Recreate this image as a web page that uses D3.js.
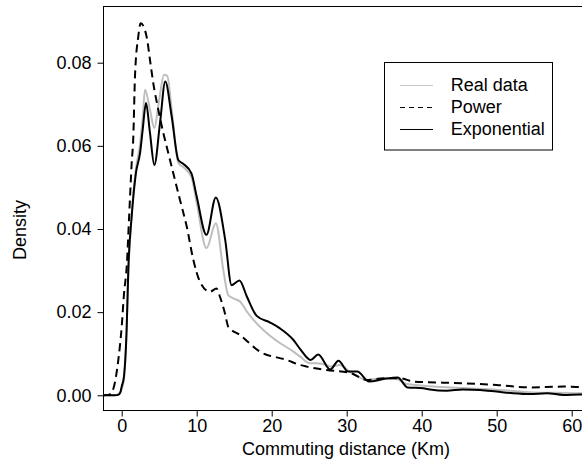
<html>
<head>
<title>Commuting distance density</title>
<meta charset="utf-8">
<style type="text/css">
* { margin: 0; padding: 0; }
body { background: #fff; }
text { font-family: "Liberation Sans", Arial, sans-serif; font-size: 18px; fill: #000; }
</style>
<script type="text/javascript" src="https://cdn.jsdelivr.net/npm/d3@7/dist/d3.min.js"></script>
<script type="text/javascript">
// values (km, density)
var realX = [-2.5,-0.9,-0.4,0,0.3,0.65,0.88,1.33,1.9,2.45,2.8,3.11,3.77,4.35,5.0,5.64,6.08,6.67,7.55,8.2,9.3,10.0,11.3,12.55,13.55,14.2,14.9,15.8,16.7,17.6,20.2,22.9,23.8,25.1,26.0,27.3,27.8,29.1,30.4,32.7,34.9,36.7,38.0,43.8,46.0,50.4,54.8,58.0,61.1,62.5];
var realY = [0,0,0.0002,0.0015,0.004,0.0155,0.029,0.0435,0.0545,0.0604,0.0668,0.0735,0.0687,0.0643,0.0711,0.0771,0.0768,0.0687,0.0559,0.0549,0.0525,0.0463,0.0354,0.0414,0.0301,0.0241,0.0233,0.0225,0.0201,0.0181,0.0137,0.0105,0.0093,0.0077,0.0077,0.0073,0.0069,0.0073,0.0057,0.0037,0.0041,0.0039,0.0027,0.0019,0.0017,0.0013,0.0007,0.0006,0.0005,0.0005];

var powerX = [-2.5,-1.8,-1.43,-1.03,-0.45,0,0.31,0.67,1.01,1.33,1.55,1.77,2.21,2.53,3.33,3.77,4.21,4.88,5.55,6.0,6.88,7.77,8.67,9.55,10.44,11.77,12.64,13.1,13.77,14.21,15.77,18.44,22.0,23.77,24.67,27.33,30.44,32.7,35.3,37.1,38.9,45.5,50.0,54.4,58.9,61.1,62.5];
var powerY = [0,0.0001,0.0004,0.0021,0.0085,0.0165,0.0245,0.031,0.0438,0.0558,0.0622,0.0767,0.0863,0.0895,0.0862,0.0807,0.0751,0.0687,0.0631,0.0598,0.0534,0.047,0.0406,0.0326,0.0273,0.0249,0.0257,0.0237,0.0197,0.0165,0.0145,0.0105,0.0085,0.0073,0.0069,0.0061,0.0054,0.0037,0.0041,0.0041,0.0033,0.0029,0.0025,0.0019,0.0021,0.002,0.002];

var expX = [-2.5,-0.9,-0.5,-0.2,0,0.3,0.67,0.88,1.33,1.9,2.45,2.8,3.24,3.77,4.35,5.11,5.81,6.67,7.55,8.2,9.3,10.0,11.3,12.55,13.8,14.65,15.7,16.7,18.0,19.8,21.1,22.9,23.8,25.2,26.2,27.8,28.9,30.2,31.4,33.0,34.9,36.8,38.1,40.2,41.1,43.3,45.5,47.8,50.0,52.2,54.4,56.7,58.9,61.1,62.5];
var expY = [0,0,0.0001,0.0006,0.0021,0.0045,0.0165,0.0301,0.0430,0.0535,0.0583,0.0639,0.0703,0.0631,0.0554,0.0655,0.0755,0.0670,0.0566,0.0557,0.0534,0.0478,0.0386,0.0476,0.0374,0.0265,0.0276,0.0237,0.0191,0.0175,0.0161,0.0133,0.0111,0.0085,0.0098,0.0062,0.0083,0.0057,0.0057,0.0033,0.0039,0.0043,0.0019,0.0017,0.0014,0.0011,0.0014,0.0013,0.0009,0.0005,0.0003,0.0005,0.0001,0.0002,0.0002];

var xTicks = [0, 10, 20, 30, 40, 50, 60];
var yTicks = [0, 0.02, 0.04, 0.06, 0.08];
var legendNames = ["Real data", "Power", "Exponential"];

window.onload = function() {
  var width = 582, height = 461;
  var box = { left: 103, top: 6, right: 590, bottom: 410 };

  var svg = d3.select("#chart").append("svg")
    .attr("width", width)
    .attr("height", height);

  var x = d3.scaleLinear().domain([0, 60]).range([121.7, 571.7]);
  var y = d3.scaleLinear().domain([0, 0.08]).range([395.3, 62.7]);

  svg.append("clipPath").attr("id", "plotClip")
    .append("rect")
    .attr("x", box.left).attr("y", box.top)
    .attr("width", box.right - box.left).attr("height", box.bottom - box.top);

  var line = d3.line()
    .x(function(d) { return x(d[0]); })
    .y(function(d) { return y(d[1]); })
    .curve(d3.curveMonotoneX);

  function pairs(xs, ys) {
    return xs.map(function(v, i) { return [v, ys[i]]; });
  }

  var curves = svg.append("g").attr("clip-path", "url(#plotClip)");

  curves.append("path")
    .attr("d", line(pairs(realX, realY)))
    .attr("fill", "none")
    .attr("stroke", "#bebebe")
    .attr("stroke-width", 2);

  curves.append("path")
    .attr("d", line(pairs(powerX, powerY)))
    .attr("fill", "none")
    .attr("stroke", "#000")
    .attr("stroke-width", 2)
    .attr("stroke-dasharray", "8,5");

  curves.append("path")
    .attr("d", line(pairs(expX, expY)))
    .attr("fill", "none")
    .attr("stroke", "#000")
    .attr("stroke-width", 2);

  // plot box
  svg.append("rect")
    .attr("x", box.left + 0.5).attr("y", box.top + 0.5)
    .attr("width", box.right - box.left).attr("height", box.bottom - box.top)
    .attr("fill", "none")
    .attr("stroke", "#000")
    .attr("stroke-width", 1);

  // x axis
  var xAxis = d3.axisBottom(x).tickValues(xTicks).tickSize(6).tickPadding(3)
    .tickFormat(d3.format("d"));
  var gx = svg.append("g")
    .attr("transform", "translate(0," + (box.bottom + 0.5) + ")")
    .call(xAxis);
  gx.select(".domain").remove();
  gx.selectAll("text").attr("font-size", null).attr("font-family", null);

  // y axis
  var yAxis = d3.axisLeft(y).tickValues(yTicks).tickSize(6).tickPadding(6)
    .tickFormat(d3.format(".2f"));
  var gy = svg.append("g")
    .attr("transform", "translate(" + (box.left + 0.5) + ",0)")
    .call(yAxis);
  gy.select(".domain").remove();
  gy.selectAll("text").attr("font-size", null).attr("font-family", null);

  svg.append("text")
    .attr("x", 346)
    .attr("y", 455)
    .attr("text-anchor", "middle")
    .text("Commuting distance (Km)");

  svg.append("text")
    .attr("transform", "translate(26,230) rotate(-90)")
    .attr("text-anchor", "middle")
    .text("Density");

  // legend
  var legend = svg.append("g");
  legend.append("rect")
    .attr("x", 384.5).attr("y", 62.5)
    .attr("width", 168).attr("height", 87.5)
    .attr("fill", "#fff")
    .attr("stroke", "#000");

  var legendColors = ["#c8c8c8", "#000", "#000"];
  var legendDash = [null, "5,4", null];
  legendNames.forEach(function(name, i) {
    var ly = 85 + i * 22;
    legend.append("line")
      .attr("x1", 400).attr("x2", 433)
      .attr("y1", ly + 0.5).attr("y2", ly + 0.5)
      .attr("stroke", legendColors[i])
      .attr("stroke-width", 1)
      .attr("stroke-dasharray", legendDash[i]);
    legend.append("text")
      .attr("x", 450.7)
      .attr("y", ly)
      .attr("dy", "0.35em")
      .text(name);
  });
};
</script>
</head>
<body>
  <div id="chart"></div>
</body>
</html>
